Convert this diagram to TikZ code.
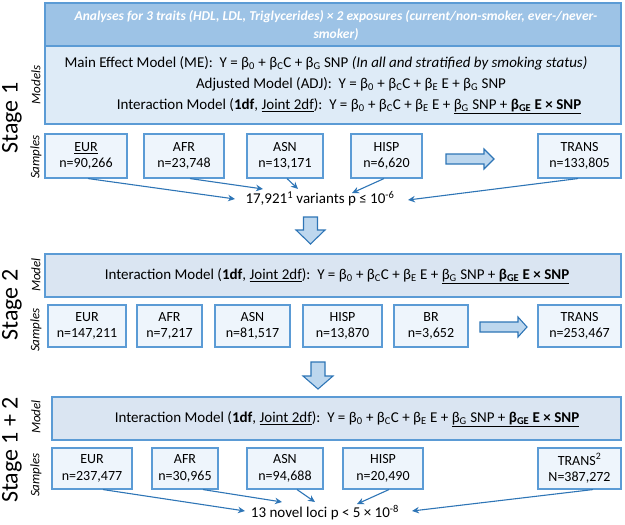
\documentclass[tikz,border=0pt]{standalone}
\usepackage{fontspec}
\setmainfont{Carlito}
\usetikzlibrary{arrows.meta}
\definecolor{hdrband}{HTML}{9DC3E6}
\definecolor{hdrbody}{HTML}{DEEBF7}
\definecolor{edgeblue}{HTML}{5B9BD5}
\definecolor{sampfill}{HTML}{EEF5FC}
\definecolor{modfill}{HTML}{DAE5F2}
\definecolor{connblue}{HTML}{2E75B6}
\definecolor{barrowfill}{HTML}{BDD7EE}
\newcommand\sbb[1]{\textsubscript{#1}}
\newcommand\intmodel{Interaction Model (\textbf{1df}, \underline{Joint 2df}):\ \ Y = β\sbb{0} + β\sbb{C}C + β\sbb{E} E + \underline{β\sbb{G} SNP + \textbf{β\sbb{GE} E × SNP}}}
\begin{document}
\begin{tikzpicture}[x=1pt,y=-1pt,
  txt/.style={inner sep=0pt, font=\fontsize{15}{18}\selectfont},
  sampbox/.style={draw=edgeblue, line width=1.1pt, fill=sampfill, inner sep=0pt, align=center, font=\fontsize{14}{16.5}\selectfont},
  modbox/.style={draw=edgeblue, line width=1.2pt, fill=modfill, inner sep=0pt, minimum height=43pt},
  stagelbl/.style={rotate=90, inner sep=0pt, font=\fontsize{24}{28}\selectfont},
  partlbl/.style={rotate=90, inner sep=0pt, font=\fontsize{13}{15}\selectfont\itshape},
  conn/.style={draw=connblue, line width=1.1pt, -{Stealth[length=7pt,width=6.5pt]}},
  blockarrow/.style={draw=connblue, line width=1.1pt, fill=barrowfill, line join=miter},
]
\useasboundingbox (0,0) rectangle (625,525);

% ---------------- Stage 1 ----------------
\node[draw=edgeblue, line width=1.2pt, fill=hdrband, minimum width=576pt, minimum height=43pt, inner sep=0pt] (band) at (333,24.5) {};
\node[draw=edgeblue, line width=1.2pt, fill=hdrbody, minimum width=576pt, minimum height=78pt, inner sep=0pt] (models1) at (333,85) {};
\node[txt, text=white, align=center, font=\fontsize{13.5}{18}\selectfont\bfseries\itshape] (title) at (336,25.5) {Analyses for 3 traits (HDL, LDL, Triglycerides) × 2 exposures (current/non-smoker, ever-/never-\\smoker)};
\node[txt] (me) at (326,63) {Main Effect Model (ME):\ \ Y = β\sbb{0} + β\sbb{C}C + β\sbb{G} SNP \textit{(In all and stratified by smoking status)}};
\node[txt] (adj) at (351,84.5) {Adjusted Model (ADJ):\ \ Y = β\sbb{0} + β\sbb{C}C + β\sbb{E} E + β\sbb{G} SNP};
\node[txt] (int1) at (349,106) {\intmodel};

\node[stagelbl] (st1) at (12,118) {Stage 1};
\node[partlbl] (m1lbl) at (36,85) {Models};
\node[partlbl] (s1lbl) at (36,157) {Samples};

\node[sampbox, minimum width=82pt, minimum height=44pt] (eur1) at (86,156) {\underline{EUR}\\n=90,266};
\node[sampbox, minimum width=80pt, minimum height=44pt] (afr1) at (184,156) {AFR\\n=23,748};
\node[sampbox, minimum width=76pt, minimum height=44pt] (asn1) at (285,156) {ASN\\n=13,171};
\node[sampbox, minimum width=71pt, minimum height=44pt] (hisp1) at (386.5,156) {HISP\\n=6,620};
\node[sampbox, minimum width=83pt, minimum height=44pt] (trans1) at (579.5,156) {TRANS\\n=133,805};
\draw[blockarrow] (446,154) -- (484,154) -- (484,149) -- (494,159) -- (484,169) -- (484,164) -- (446,164) -- cycle;

\node[txt] (res1) at (320,199) {17,921\textsuperscript{1} variants p ≤ 10\textsuperscript{-6}};
\coordinate (r1a) at (235,199);
\coordinate (r1b) at (263,189);
\coordinate (r1c) at (298,189);
\coordinate (r1d) at (352,193);
\coordinate (r1e) at (408,200);
\draw[conn] (eur1.south -| 88,0) -- (r1a);
\draw[conn] (afr1.south -| 190,0) -- (r1b);
\draw[conn] (asn1.south -| 287,0) -- (r1c);
\draw[conn] (hisp1.south -| 384,0) -- (r1d);
\draw[conn] (trans1.south -| 578,0) -- (r1e);

\draw[blockarrow] (303.5,217) -- (317.5,217) -- (317.5,230) -- (325,230) -- (310.5,244) -- (296,230) -- (303.5,230) -- cycle;

% ---------------- Stage 2 ----------------
\node[modbox, minimum width=576pt] (mod2) at (333,275.5) {};
\node[txt] (int2) at (337,276) {\intmodel};
\node[stagelbl] (st2) at (12,305) {Stage 2};
\node[partlbl] (m2lbl) at (36,275) {Model};
\node[partlbl] (s2lbl) at (36,330) {Samples};

\node[sampbox, minimum width=78pt, minimum height=42pt] (eur2) at (87,326) {EUR\\n=147,211};
\node[sampbox, minimum width=65pt, minimum height=42pt] (afr2) at (169.5,326) {AFR\\n=7,217};
\node[sampbox, minimum width=75pt, minimum height=42pt] (asn2) at (252.5,326) {ASN\\n=81,517};
\node[sampbox, minimum width=79pt, minimum height=42pt] (hisp2) at (342.5,326) {HISP\\n=13,870};
\node[sampbox, minimum width=74pt, minimum height=42pt] (br2) at (431,326) {BR\\n=3,652};
\node[sampbox, minimum width=83pt, minimum height=42pt] (trans2) at (579.5,326) {TRANS\\n=253,467};
\draw[blockarrow] (480,322) -- (518,322) -- (518,317) -- (527,327) -- (518,337) -- (518,332) -- (480,332) -- cycle;

\draw[blockarrow] (311,362) -- (325,362) -- (325,376) -- (333,376) -- (318,389) -- (303,376) -- (311,376) -- cycle;

% ---------------- Stage 1 + 2 ----------------
\node[modbox, minimum width=569pt] (mod3) at (336.5,418.5) {};
\node[txt] (int3) at (347,419) {\intmodel};
\node[stagelbl] (st3) at (12,450) {Stage 1 + 2};
\node[partlbl] (m3lbl) at (36,417) {Model};
\node[partlbl] (s3lbl) at (36,475) {Samples};

\node[sampbox, minimum width=80pt, minimum height=41pt] (eur3) at (92,468.5) {EUR\\n=237,477};
\node[sampbox, minimum width=66pt, minimum height=41pt] (afr3) at (185,468.5) {AFR\\n=30,965};
\node[sampbox, minimum width=76pt, minimum height=41pt] (asn3) at (285,468.5) {ASN\\n=94,688};
\node[sampbox, minimum width=80pt, minimum height=41pt] (hisp3) at (383,468.5) {HISP\\n=20,490};
\node[sampbox, minimum width=83pt, minimum height=41pt] (trans3) at (579.5,468.5) {TRANS\textsuperscript{2}\\N=387,272};

\node[txt] (res3) at (325,513) {13 novel loci p < 5 × 10\textsuperscript{-8}};
\coordinate (r3a) at (245,511);
\coordinate (r3b) at (282,502);
\coordinate (r3c) at (315,502);
\coordinate (r3d) at (357,504);
\coordinate (r3e) at (412,511);
\draw[conn] (eur3.south -| 103,0) -- (r3a);
\draw[conn] (afr3.south -| 203,0) -- (r3b);
\draw[conn] (asn3.south -| 297,0) -- (r3c);
\draw[conn] (hisp3.south -| 389,0) -- (r3d);
\draw[conn] (trans3.south -| 593,0) -- (r3e);
\end{tikzpicture}
\end{document}
